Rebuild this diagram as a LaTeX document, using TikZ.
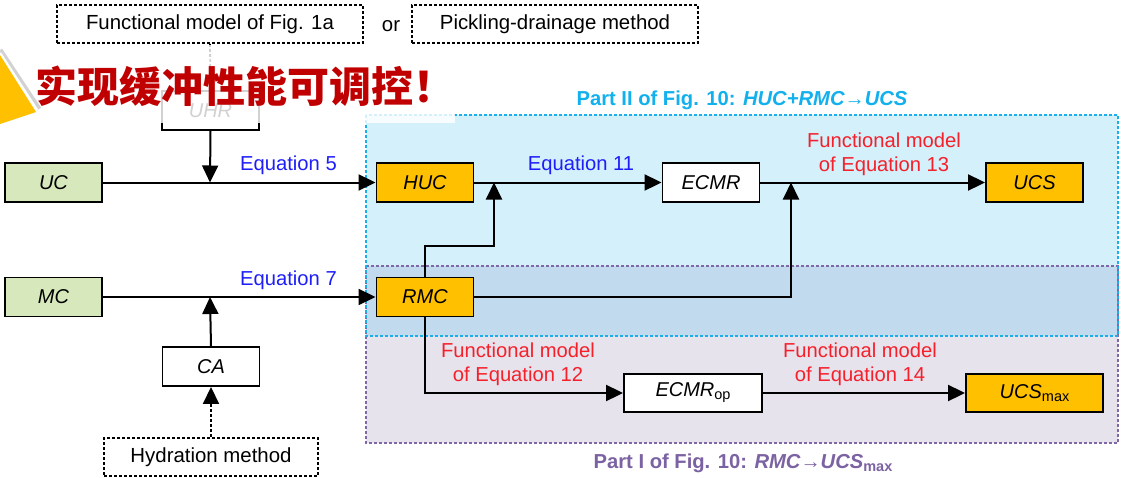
\documentclass[tikz,border=0pt]{standalone}
\usepackage{fontspec}
\setmainfont{Liberation Sans}
\newfontfamily\cjk{Noto Sans CJK SC}
\usetikzlibrary{arrows.meta,calc}
\definecolor{boxgreen}{HTML}{D7E9BC}
\definecolor{boxorange}{HTML}{FFC000}
\definecolor{cyanfill}{HTML}{D3F0FB}
\definecolor{overlapfill}{HTML}{C2DAEE}
\definecolor{purplefill}{HTML}{E7E3ED}
\definecolor{cyanline}{HTML}{1AAEEA}
\definecolor{purpleline}{HTML}{8068A6}
\definecolor{eqblue}{HTML}{1E1EFA}
\definecolor{fmred}{HTML}{F5202A}
\definecolor{partcyan}{HTML}{12B0EC}
\definecolor{partpurple}{HTML}{7B62A2}
\definecolor{cnred}{HTML}{C00000}
\begin{document}
\begin{tikzpicture}[x=1pt,y=-1pt,
  every node/.style={inner sep=0pt},
  box/.style={draw=black,line width=1.9pt,minimum width=97pt,minimum height=39pt,font=\fontsize{20}{22}\selectfont\itshape},
  greenbox/.style={box,fill=boxgreen},
  orangebox/.style={box,fill=boxorange},
  whitebox/.style={box,fill=white},
  dotbox/.style={draw=black,line width=1.7pt,dash pattern=on 3pt off 2pt,minimum height=38pt,fill=white,font=\fontsize{20.4}{22}\selectfont},
  arr/.style={line width=2pt,-{Triangle[length=17pt,width=16pt]}},
  dotline/.style={line width=1.8pt,dash pattern=on 3pt off 2pt},
  dotarr/.style={dotline,-{Triangle[length=17pt,width=16pt]}},
  eqlabel/.style={font=\fontsize{20.2}{24}\selectfont,text=eqblue,anchor=base},
  fmlabel/.style={font=\fontsize{20.2}{24}\selectfont,text=fmred,align=center},
  regionline/.style={line width=1.6pt,dash pattern=on 3pt off 2pt}
]
\useasboundingbox (0,0) rectangle (1127,477);
\fill[white] (0,0) rectangle (1127,477);

% regions
\fill[cyanfill] (366,115) rectangle (1118,336);
\fill[overlapfill] (366,266) rectangle (1118,336);
\fill[purplefill] (366,336) rectangle (1118,443);
\draw[purpleline,regionline] (366,266) rectangle (1118,443);
\draw[cyanline,regionline] (366,115) rectangle (1118,336);

% region titles
\node[anchor=base,text=partcyan,font=\fontsize{20.2}{22}\selectfont\bfseries] (p2) at (742,105)
  {Part II of Fig. 10: \textit{HUC+RMC→UCS}};
\node[anchor=base,text=partpurple,font=\fontsize{20.2}{22}\selectfont\bfseries] (p1) at (743,468)
  {Part I of Fig. 10: \textit{RMC→UCS}\raisebox{-3pt}{\fontsize{14.5}{14}\selectfont max}};

% top dotted boxes
\node[dotbox,minimum width=306pt] (fig1a) at (210,24) {Functional model of Fig. 1a};
\node[anchor=base,font=\fontsize{20.4}{22}\selectfont] (orword) at (391,31) {or};
\node[dotbox,minimum width=286pt] (pick) at (555,24) {Pickling-drainage method};

% left side
\node[whitebox] (uhr) at (210.5,110.5) {UHR};
\node[greenbox] (uc) at (53.5,182.5) {UC};
\node[greenbox] (mc) at (53.5,297) {MC};
\node[whitebox] (ca) at (211,366.5) {CA};
\node[dotbox,minimum width=214pt] (hyd) at (211,457) {Hydration method};

% main boxes
\node[orangebox] (huc) at (425,182.5) {HUC};
\node[whitebox] (ecmr) at (711,182.5) {ECMR};
\node[orangebox] (ucs) at (1034.5,182.5) {UCS};
\node[orangebox] (rmc) at (425,297) {RMC};
\node[whitebox,minimum width=138pt,minimum height=38pt] (ecmrop) at (693,393)
  {ECMR\raisebox{-3pt}{\upshape\fontsize{14.5}{14}\selectfont op}};
\node[orangebox,minimum width=137pt,minimum height=38pt] (ucsmax) at (1034.5,393)
  {UCS\raisebox{-3pt}{\upshape\fontsize{14.5}{14}\selectfont max}};

% junctions
\coordinate (j1) at (210,182.5);
\coordinate (j2) at (210,297);
\coordinate (jh) at (494,182.5);
\coordinate (bend1) at (494,246);
\coordinate (ju) at (791,182.5);

% connectors
\draw[dotline] (fig1a.south) -- (uhr.north);
\draw[arr] (uhr.south) -- (j1);
\draw[arr] (uc.east) -- (huc.west);
\draw[arr] (mc.east) -- (rmc.west);
\draw[arr] (ca.north) -- (j2);
\draw[dotarr] (hyd.north) -- (ca.south);
\draw[arr] (huc.east) -- (ecmr.west);
\draw[arr] (ecmr.east) -- (ucs.west);
\draw[arr] (rmc.north) |- (bend1) -- (jh);
\draw[arr] (rmc.east) -| (ju);
\draw[arr] (rmc.south) |- (ecmrop.west);
\draw[arr] (ecmrop.east) -- (ucsmax.west);

% labels
\node[eqlabel] (eq5) at (288.5,170) {Equation 5};
\node[eqlabel] (eq7) at (288.5,285) {Equation 7};
\node[eqlabel] (eq11) at (581,170) {Equation 11};
\node[fmlabel] (fm13) at (884,154) {Functional model\\of Equation 13};
\node[fmlabel] (fm12) at (518,364) {Functional model\\of Equation 12};
\node[fmlabel] (fm14) at (860,364) {Functional model\\of Equation 14};

% overlay
\fill[white,opacity=0.82] (0,45) rectangle (455,123);
\draw[gray!35,line width=5pt] (0,50) -- (39,109);
\draw[white,line width=2.5pt] (0,53) -- (37,110);
\fill[boxorange] (0,55) -- (36,112) -- (0,124) -- cycle;
\node[anchor=base west,text=cnred,font=\cjk\bfseries\fontsize{42}{44}\selectfont] (cn) at (35,102)
  {实现缓冲性能可调控！};
\end{tikzpicture}
\end{document}
